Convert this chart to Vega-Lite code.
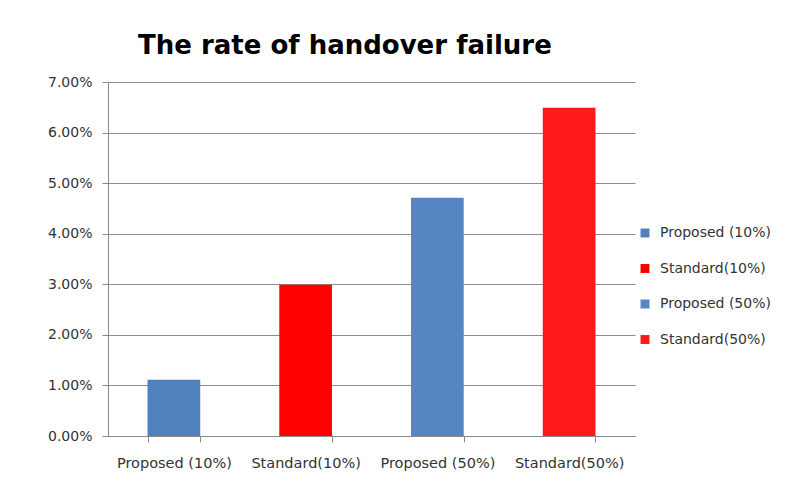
{
  "$schema": "https://vega.github.io/schema/vega-lite/v6.json",
  "width": 527,
  "height": 354,
  "autosize": {"type": "none"},
  "padding": {"left": 108, "top": 82, "right": 166, "bottom": 51},
  "background": "white",
  "title": {
    "text": "The rate of handover failure",
    "font": "DejaVu Sans",
    "fontSize": 26,
    "fontWeight": "bold",
    "color": "#000000",
    "anchor": "start",
    "frame": "group",
    "dx": 30,
    "offset": 16
  },
  "data": {
    "values": [
      {"scheme": "Proposed (10%)", "rate": 0.0111},
      {"scheme": "Standard(10%)", "rate": 0.0299},
      {"scheme": "Proposed (50%)", "rate": 0.0471},
      {"scheme": "Standard(50%)", "rate": 0.0649}
    ]
  },
  "mark": {"type": "bar"},
  "encoding": {
    "x": {
      "field": "scheme",
      "type": "nominal",
      "sort": null,
      "scale": {"paddingInner": 0.6, "paddingOuter": 0.3},
      "axis": {
        "title": null,
        "labelAngle": 0,
        "tickBand": "extent",
        "labelFont": "DejaVu Sans",
        "labelFontSize": 14.5,
        "labelColor": "#333333",
        "labelPadding": 14,
        "labelOverlap": false,
        "labelLimit": 200,
        "domainColor": "#888888",
        "tickColor": "#888888",
        "tickSize": 6,
        "grid": false
      }
    },
    "y": {
      "field": "rate",
      "type": "quantitative",
      "scale": {"domain": [0, 0.07]},
      "axis": {
        "title": null,
        "format": ".2%",
        "values": [0, 0.01, 0.02, 0.03, 0.04, 0.05, 0.06, 0.07],
        "labelFont": "DejaVu Sans",
        "labelFontSize": 14,
        "labelColor": "#333333",
        "labelPadding": 10,
        "domainColor": "#888888",
        "tickColor": "#888888",
        "tickSize": 6,
        "gridColor": "#8c8c8c",
        "gridWidth": 1.2
      }
    },
    "color": {
      "field": "scheme",
      "type": "nominal",
      "sort": null,
      "scale": {
        "domain": ["Proposed (10%)", "Standard(10%)", "Proposed (50%)", "Standard(50%)"],
        "range": ["#4F81BD", "#FF0000", "#5585C2", "#FF1A1A"]
      },
      "legend": {
        "title": null,
        "orient": "none",
        "legendX": 530,
        "legendY": 144,
        "symbolType": "square",
        "symbolSize": 80,
        "rowPadding": 21.5,
        "labelFont": "DejaVu Sans",
        "labelFontSize": 14,
        "labelColor": "#333333",
        "labelOffset": 8,
        "labelLimit": 200
      }
    }
  },
  "config": {
    "view": {"stroke": null}
  }
}
